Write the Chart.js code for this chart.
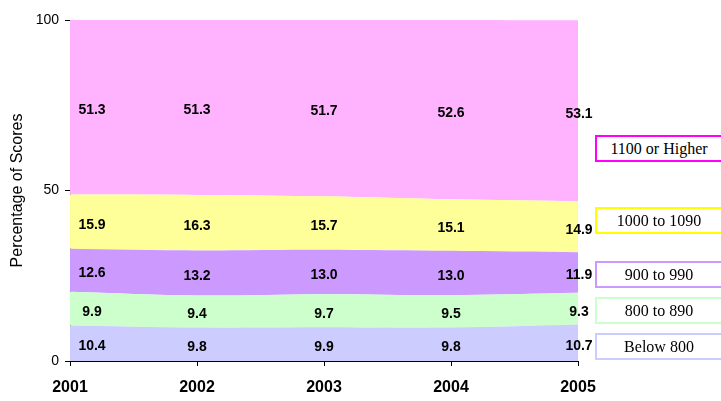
<!DOCTYPE html>
<html>
<head>
<meta charset="utf-8">
<script src="https://cdn.jsdelivr.net/npm/chart.js@4"></script>
<style>
  body { margin: 0; background: #fff; }
  #wrap { position: relative; width: 721px; height: 401px; overflow: hidden; }
  .lg {
    position: absolute; left: 595px; width: 124px; height: 23px;
    border: 2px solid #000; background: #fff;
    font-family: "Liberation Serif", "Times New Roman", serif; font-size: 16px;
    line-height: 23px; text-align: center; color: #000;
  }
</style>
</head>
<body>
<div id="wrap">
  <canvas id="chart" width="721" height="401"></canvas>
  <div class="lg" style="top:135px;border-color:#ff00ff">1100 or Higher</div>
  <div class="lg" style="top:207px;border-color:#ffff00">1000 to 1090</div>
  <div class="lg" style="top:261px;border-color:#cc99ff">900 to 990</div>
  <div class="lg" style="top:297px;border-color:#ccffcc">800 to 890</div>
  <div class="lg" style="top:333px;border-color:#ccccff">Below 800</div>
</div>
<script>
// Data
const years = ['2001', '2002', '2003', '2004', '2005'];
const below800 = [10.4, 9.8, 9.9, 9.8, 10.7];
const s800to890 = [9.9, 9.4, 9.7, 9.5, 9.3];
const s900to990 = [12.6, 13.2, 13.0, 13.0, 11.9];
const s1000to1090 = [15.9, 16.3, 15.7, 15.1, 14.9];
const s1100up = [51.3, 51.3, 51.7, 52.6, 53.1];
const yTicks = [0, 50, 100];

const bands = [
    { label: 'Below 800', data: below800, color: '#ccccff' },
    { label: '800 to 890', data: s800to890, color: '#ccffcc' },
    { label: '900 to 990', data: s900to990, color: '#cc99ff' },
    { label: '1000 to 1090', data: s1000to1090, color: '#ffff99' },
    { label: '1100 or Higher', data: s1100up, color: '#ffb3ff' },
];

// value labels in the middle of each band
const bandLabels = {
    id: 'bandLabels',
    afterDatasetsDraw(chart) {
        const ctx = chart.ctx;
        const x = chart.scales.x, y = chart.scales.y;
        ctx.save();
        ctx.font = 'bold 14px "Liberation Sans", Arial, sans-serif';
        ctx.fillStyle = '#000';
        ctx.textAlign = 'center';
        ctx.textBaseline = 'middle';
        years.forEach((yr, i) => {
            let base = 0;
            bands.forEach(b => {
                const v = b.data[i];
                const mid = y.getPixelForValue(Math.min(base + v / 2, 100));
                let px = x.getPixelForValue(i);
                if (i === 0) px += 22;
                if (i === years.length - 1) px += 1;
                ctx.fillText(v.toFixed(1), px, mid + 3);
                base += v;
            });
        });
        ctx.restore();
    }
};

new Chart(document.getElementById('chart'), {
    type: 'line',
    data: {
        labels: years,
        datasets: bands.map((b, i) => ({
            label: b.label,
            data: b.data,
            backgroundColor: b.color,
            borderWidth: 0,
            pointRadius: 0,
            tension: 0.3,
            fill: i === 0 ? 'origin' : '-1',
        }))
    },
    options: {
        responsive: false,
        animation: false,
        layout: { padding: { top: 20, right: 143, bottom: 0, left: 0 } },
        plugins: {
            legend: { display: false },
            tooltip: { enabled: false }
        },
        scales: {
            x: {
                offset: false,
                grid: { drawOnChartArea: false, tickLength: 5, color: '#000' },
                border: { color: '#000', width: 1 },
                ticks: {
                    color: '#000', padding: 12,
                    font: { family: '"Liberation Sans", Arial, sans-serif', size: 16, weight: 'bold' },
                    maxRotation: 0
                },
                afterFit: s => { s.height = 40; }
            },
            y: {
                stacked: true,
                min: 0, max: 100,
                afterBuildTicks: s => { s.ticks = yTicks.map(v => ({ value: v })); },
                grid: { drawOnChartArea: false, tickLength: 5, color: '#000' },
                border: { color: '#000', width: 1 },
                ticks: {
                    color: '#000', padding: 6,
                    font: { family: '"Liberation Sans", Arial, sans-serif', size: 14 }
                },
                title: {
                    display: true, text: 'Percentage of Scores', color: '#000',
                    padding: { top: 8, bottom: 0 },
                    font: { family: '"Liberation Sans", Arial, sans-serif', size: 16 }
                },
                afterFit: s => { s.width = 70; }
            }
        }
    },
    plugins: [bandLabels]
});
</script>
</body>
</html>
